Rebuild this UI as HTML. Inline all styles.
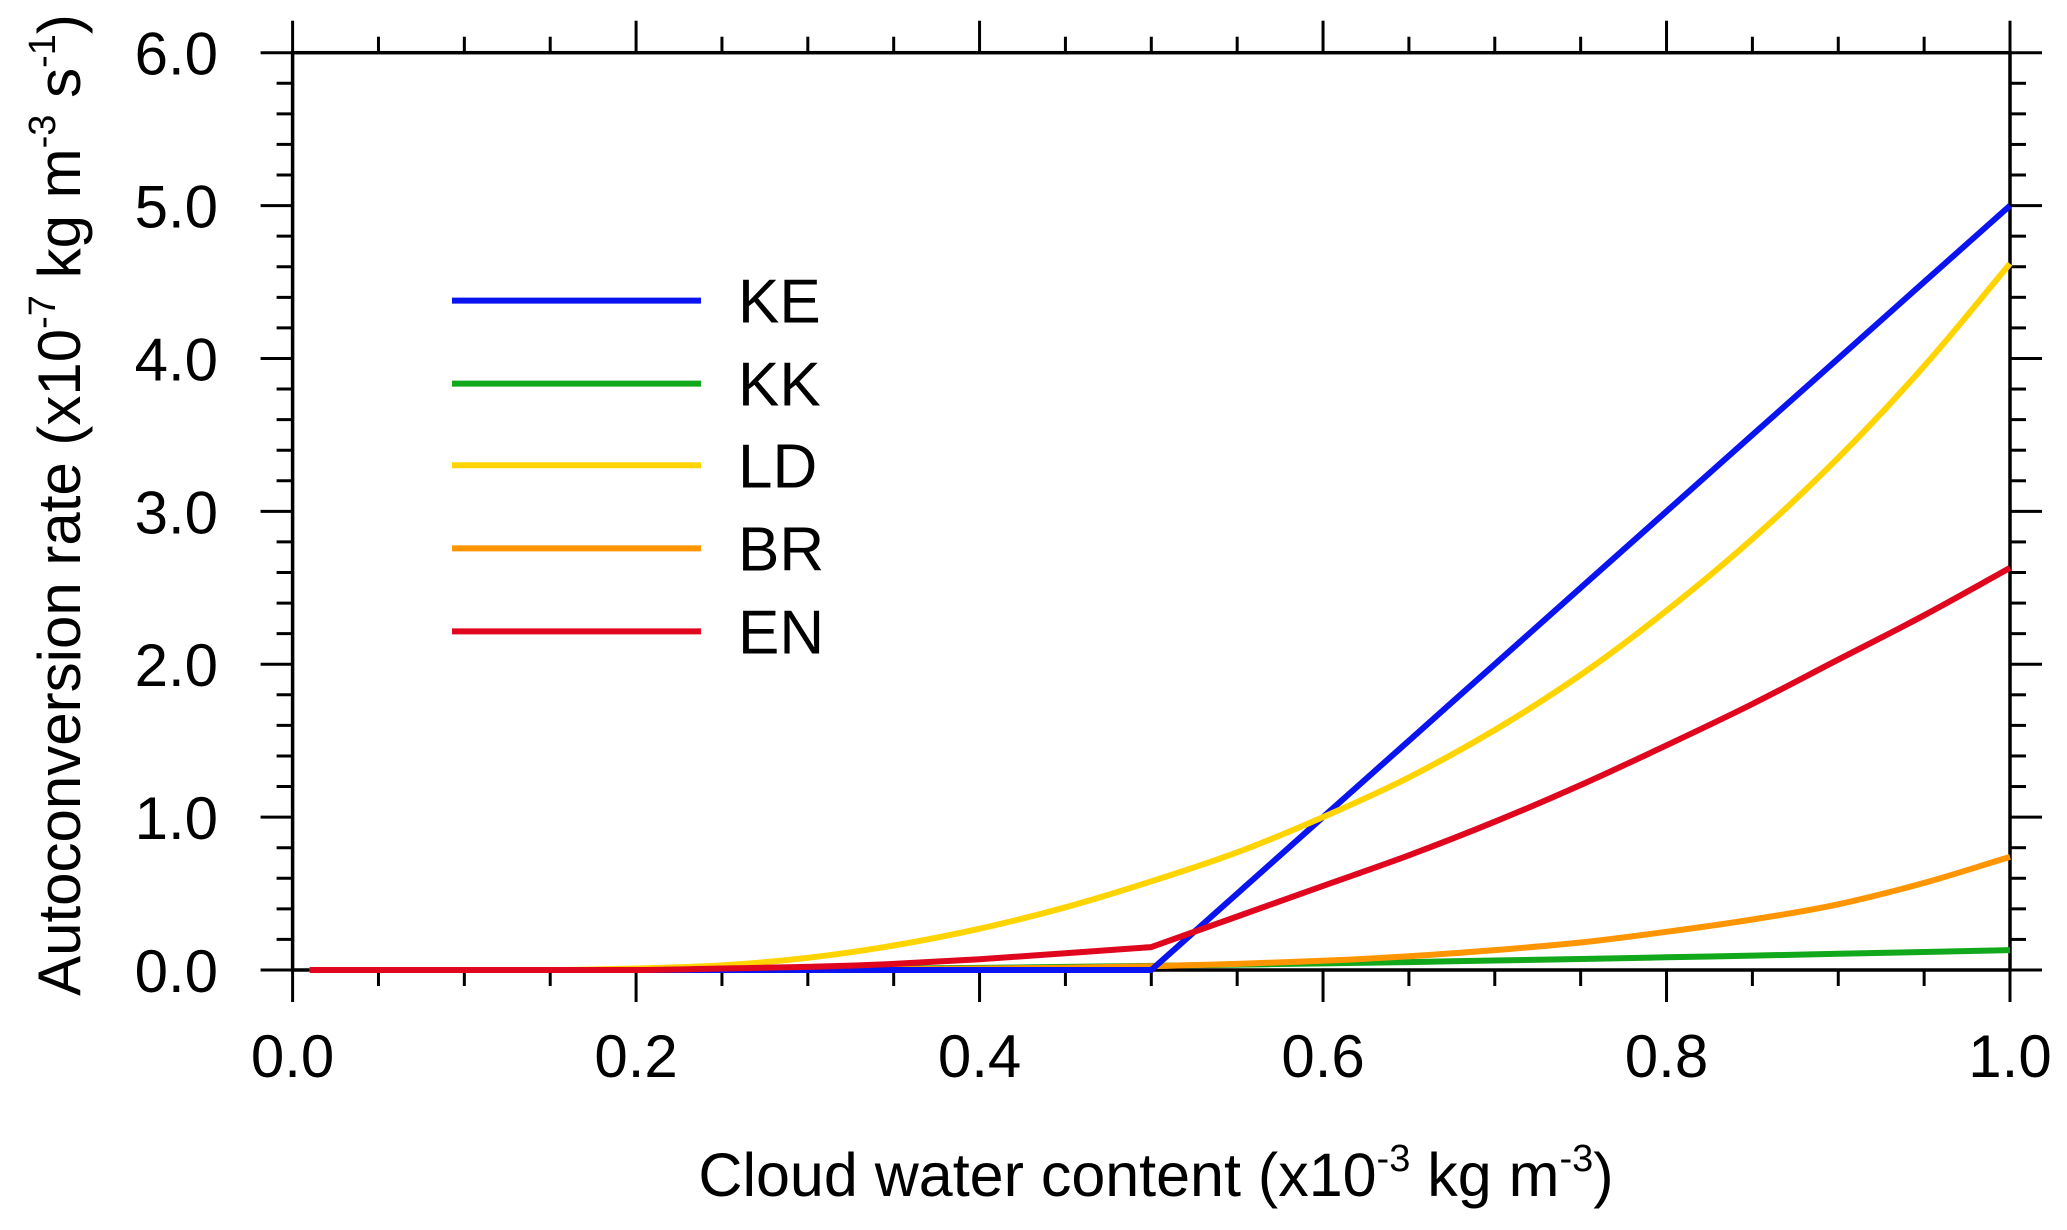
<!DOCTYPE html>
<html><head><meta charset="utf-8"><style>
html,body{margin:0;padding:0;background:#fff;}
svg{display:block;font-family:"Liberation Sans",sans-serif;}
</style></head><body>
<svg id="chart" width="2067" height="1230" viewBox="0 0 2067 1230" xmlns="http://www.w3.org/2000/svg">
<g id="axes"></g>
<g id="series"></g>
<g id="legend"></g>
<text x="1156" y="1196" font-size="61" text-anchor="middle">Cloud water content  (x10<tspan dy="-25" font-size="38">-3</tspan><tspan dy="25"> kg m</tspan><tspan dy="-25" font-size="38">-3</tspan><tspan dy="25">)</tspan></text>
<text transform="translate(80,505) rotate(-90)" font-size="60" text-anchor="middle">Autoconversion rate (x10<tspan dy="-25" font-size="38">-7</tspan><tspan dy="25"> kg m</tspan><tspan dy="-25" font-size="38">-3</tspan><tspan dy="25"> s</tspan><tspan dy="-25" font-size="38">-1</tspan><tspan dy="25">)</tspan></text>
</svg>
<script>
const xValues = [0.01,0.05,0.1,0.15,0.2,0.25,0.3,0.35,0.4,0.45,0.5,0.55,0.6,0.65,0.7,0.75,0.8,0.85,0.9,0.95,1.0];
const keValues = [0,0,0,0,0,0,0,0,0,0,0,0.5,1.0,1.5,2.0,2.5,3.0,3.5,4.0,4.5,5.0];
const kkValues = [0,0,0,0,0,0.003,0.006,0.01,0.014,0.02,0.027,0.035,0.043,0.052,0.062,0.072,0.083,0.094,0.106,0.118,0.13];
const ldValues = [0,0,0,0,0.01,0.03,0.08,0.16,0.27,0.41,0.58,0.77,1.0,1.26,1.57,1.93,2.35,2.82,3.35,3.95,4.62];
const brValues = [0,0,0,0,0,0,0,0.005,0.01,0.015,0.025,0.04,0.06,0.09,0.13,0.18,0.25,0.33,0.43,0.57,0.74];
const enValues = [0,0,0,0,0,0.01,0.02,0.04,0.07,0.11,0.15,0.35,0.55,0.75,0.97,1.21,1.47,1.74,2.03,2.32,2.63];
const seriesNames = ["KE","KK","LD","BR","EN"];
const seriesColors = ["#0a14f0","#11a81c","#ffd400","#ff9500","#e0061e"];
const xTickLabels = ["0.0","0.2","0.4","0.6","0.8","1.0"];
const yTickLabels = ["0.0","1.0","2.0","3.0","4.0","5.0","6.0"];

const X0=292.6,X1=2010,Y0=970,Y1=52.7;
const sx=v=>X0+(X1-X0)*v/1.0;
const sy=v=>Y0-(Y0-Y1)*v/6.0;
const NS="http://www.w3.org/2000/svg";
function mk(tag,attrs,parent){const e=document.createElementNS(NS,tag);for(const k in attrs)e.setAttribute(k,attrs[k]);parent.appendChild(e);return e;}
function smoothPath(px,py){
  const n=px.length,d=[],m=[];
  for(let i=0;i<n-1;i++)d.push((py[i+1]-py[i])/(px[i+1]-px[i]));
  m[0]=d[0];m[n-1]=d[n-2];
  for(let i=1;i<n-1;i++){m[i]=(d[i-1]*d[i]<=0)?0:(d[i-1]+d[i])/2;}
  for(let i=0;i<n-1;i++){if(d[i]===0){m[i]=0;m[i+1]=0;continue;}const a=m[i]/d[i],b=m[i+1]/d[i],s=a*a+b*b;if(s>9){const t=3/Math.sqrt(s);m[i]=t*a*d[i];m[i+1]=t*b*d[i];}}
  let p='M'+px[0].toFixed(1)+','+py[0].toFixed(1);
  for(let i=0;i<n-1;i++){const h=(px[i+1]-px[i])/3;
    p+=' C'+(px[i]+h).toFixed(1)+','+(py[i]+m[i]*h).toFixed(1)+' '+(px[i+1]-h).toFixed(1)+','+(py[i+1]-m[i+1]*h).toFixed(1)+' '+px[i+1].toFixed(1)+','+py[i+1].toFixed(1);}
  return p;
}
const axes=document.getElementById('axes');
let e;
e=mk('rect',{x:X0,y:Y1,width:X1-X0,height:Y0-Y1,fill:'none',stroke:'#000','stroke-width':3.5},axes);


for(let i=0;i<=20;i++){
  const v=i*0.05,x=sx(v),maj=i%4===0,L=maj?32:16;
  e=mk('line',{x1:x,y1:Y0,x2:x,y2:Y0+L,stroke:'#000','stroke-width':3},axes);
  
  
  e=mk('line',{x1:x,y1:Y1,x2:x,y2:Y1-L,stroke:'#000','stroke-width':3},axes);
  
  
}
xTickLabels.forEach((t,i)=>{
  e=mk('text',{x:sx(i*0.2),y:1077,'font-size':60,'text-anchor':'middle'},axes);
  e.textContent=t;
  
  
});
for(let i=0;i<=30;i++){
  const v=i*0.2,y=sy(v),maj=i%5===0,L=maj?32:16;
  e=mk('line',{x1:X0,y1:y,x2:X0-L,y2:y,stroke:'#000','stroke-width':3},axes);
  
  
  e=mk('line',{x1:X1,y1:y,x2:X1+L,y2:y,stroke:'#000','stroke-width':3},axes);
  
  
}
yTickLabels.forEach((t,i)=>{
  e=mk('text',{x:218,y:sy(i)+22,'font-size':60,'text-anchor':'end'},axes);
  e.textContent=t;
  
  
});
const ser=document.getElementById('series');
const allVals=[keValues,kkValues,ldValues,brValues,enValues];
const order=[1,3,0,2,4];
order.forEach(k=>{
  const vals=allVals[k];
  let d;
  if(k===0||k===4){
    const kink=xValues.indexOf(0.5);
    const a=smoothPath(xValues.slice(0,kink+1).map(sx),vals.slice(0,kink+1).map(sy));
    const b=smoothPath(xValues.slice(kink).map(sx),vals.slice(kink).map(sy));
    d=a+' '+b.replace('M','L');
  } else d=smoothPath(xValues.map(sx),vals.map(sy));
  e=mk('path',{d:d,fill:'none',stroke:seriesColors[k],'stroke-width':6,'stroke-linejoin':'round'},ser);
  
  
});
const leg=document.getElementById('legend');
const legY=[300.6,383.6,465.3,548.4,631.4];
seriesNames.forEach((n,k)=>{
  e=mk('line',{x1:452,y1:legY[k],x2:701,y2:legY[k],stroke:seriesColors[k],'stroke-width':6},leg);
  
  
  e=mk('text',{x:738,y:legY[k]+22,'font-size':62},leg);
  e.textContent=n;
  
  
});
</script>
</body></html>
